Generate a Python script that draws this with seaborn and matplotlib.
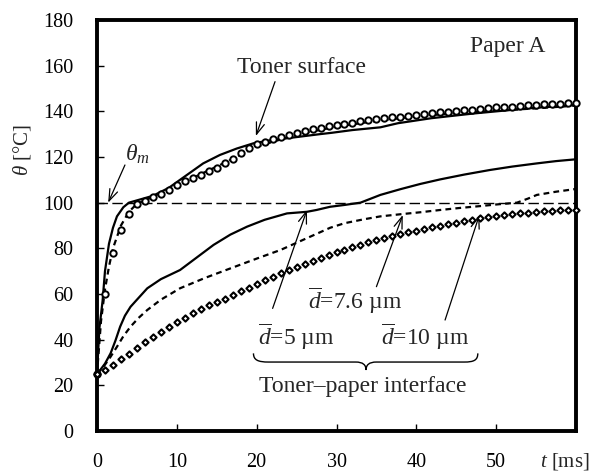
import numpy as np
import pandas as pd
import matplotlib
matplotlib.use('Agg')
import matplotlib.pyplot as plt
import seaborn as sns
from matplotlib.path import Path
from matplotlib.patches import PathPatch

# ---------------- data ----------------
# Toner surface, simulation (solid)
surf_solid_t = [0, 0.3, 0.7, 1.0, 1.5, 2.0, 2.5, 3.3, 4, 5, 7, 9, 10.4, 13.3, 15.4, 17.5,
                19.6, 21.7, 23.8, 27.9, 29.4, 32, 35.5, 37.7, 41.9, 47.3, 54, 60]
surf_solid_v = [25, 45, 57, 70, 82, 89, 94, 98, 100, 101, 103, 106.5, 110, 117.2, 120.9, 123.7,
                126, 127.3, 128.2, 130, 130.6, 131.8, 133, 134.8, 137, 139.1, 141.3, 142.8]
# Toner surface, simulation (dashed)
surf_dash_t = [0, 0.5, 1, 1.5, 2, 3, 4, 5, 7, 10, 13, 16, 20, 25, 30, 35, 40, 45, 50, 55, 60]
surf_dash_v = [25, 48, 62, 72, 80, 90, 96, 99.5, 102.5, 107.5, 112.5, 117.5, 124.5, 129.8,
               133.3, 135.8, 137.8, 139.2, 140.3, 141.3, 142.5]
# Toner surface, measured (circles), every 1 ms
exp_t = list(range(0, 61))
surf_exp_v = [25, 60, 78, 88, 95, 99.5, 100.6, 102.3, 104, 105.5, 107.8, 109.6, 110.8, 112.2,
              113.7, 115.2, 117.2, 119.2, 121.9, 124, 125.6, 126.7, 127.7, 128.8, 129.8, 130.6,
              131.4, 132.1, 132.8, 133.5, 134.1, 134.6, 135.1, 135.6, 136.1, 136.5, 136.9,
              137.3, 137.7, 138.1, 138.5, 138.8, 139.2, 139.5, 139.9, 140.2, 140.5, 140.8,
              141.1, 141.4, 141.7, 141.9, 142.1, 142.4, 142.6, 142.8, 143.0, 143.2, 143.3,
              143.5, 143.6]
# Toner-paper interface, d = 5 um (solid)
d5_t = [0, 0.4, 1.0, 1.7, 2.3, 2.9, 3.5, 4.2, 5, 6.3, 8, 10.4, 12.5, 14.6, 16.7, 18.8, 21,
        23.8, 26.3, 27.5, 29.2, 31, 33, 35.5, 38, 40.5, 43, 46, 49.2, 52, 55.1, 57.5, 60]
d5_v = [25, 26.7, 29.5, 34, 39.5, 45.7, 50.5, 54.4, 57.5, 62.5, 66.5, 70.5, 76, 81.5, 86,
        89.5, 92.5, 95.3, 96, 96.8, 98.2, 99, 100, 103.4, 105.9, 108.2, 110.2, 112.3, 114.3,
        115.8, 117.2, 118.2, 119]
# Toner-paper interface, d = 7.6 um (dashed)
d76_t = [0, 0.83, 1.7, 2.5, 3.3, 4.2, 5.2, 6.3, 8, 10.4, 13.5, 16.7, 20, 23, 26, 29.2, 31,
         33.4, 35.5, 38.2, 40.5, 43, 45.5, 48, 50, 52.6, 54, 55.1, 57.5, 60]
d76_v = [25, 28.2, 32.5, 36.9, 41.5, 45.7, 49.5, 53, 57.5, 62.5, 67, 71.2, 75.5, 79.3, 84,
         89, 91, 92.7, 94, 95, 95.8, 96.8, 97.7, 98.5, 99.2, 100, 101.8, 103.4, 104.8, 106]
# Toner-paper interface, d = 10 um (diamonds), every 1 ms
d10_v = [25, 26.5, 29, 31.5, 33.8, 36.3, 38.8, 41, 43.3, 45.5, 47.6, 49.6, 51.6, 53.3, 55,
         56.5, 58, 59.5, 61.2, 62.8, 64.5, 66, 67.6, 69, 70.5, 71.9, 73.2, 74.5, 75.8, 77.2,
         78.3, 79.4, 80.6, 81.6, 82.6, 83.5, 84.4, 85.3, 86.2, 87, 87.8, 88.6, 89.3, 90,
         90.7, 91.3, 91.9, 92.5, 93.1, 93.6, 94.1, 94.5, 94.9, 95.3, 95.6, 95.9, 96.2, 96.4,
         96.6, 96.8, 97]
theta_m = 100
x_ticks = [0, 10, 20, 30, 40, 50]
y_ticks = [0, 20, 40, 60, 80, 100, 120, 140, 160, 180]

# ---------------- style ----------------
sns.set_theme(style='white')
plt.rcParams['font.family'] = ['Liberation Serif', 'DejaVu Serif']
plt.rcParams['mathtext.fontset'] = 'custom'
plt.rcParams['mathtext.rm'] = 'Liberation Serif'
plt.rcParams['mathtext.it'] = 'Liberation Serif:italic'
plt.rcParams['mathtext.bf'] = 'Liberation Serif:bold'

fig = plt.figure(figsize=(5.92, 4.74), dpi=100)
ax = fig.add_axes([97/592, 1-431/474, (576-97)/592, (431-20)/474])

K = 'black'
LW = 1.6
short_dash = (0, (2.6, 1.9))

sns.lineplot(x=surf_solid_t, y=surf_solid_v, ax=ax, color=K, lw=LW, estimator=None, sort=False)
sns.lineplot(x=surf_dash_t, y=surf_dash_v, ax=ax, color=K, lw=LW, ls=short_dash,
             estimator=None, sort=False)
sns.lineplot(x=d5_t, y=d5_v, ax=ax, color=K, lw=LW, estimator=None, sort=False)
sns.lineplot(x=d76_t, y=d76_v, ax=ax, color=K, lw=LW, ls=short_dash, estimator=None, sort=False)

sns.scatterplot(x=exp_t, y=surf_exp_v, ax=ax, marker='o', s=21, facecolor='white',
                edgecolor=K, linewidth=1.4, zorder=4, clip_on=False)
sns.scatterplot(x=exp_t, y=d10_v, ax=ax, marker='D', s=10, facecolor='white',
                edgecolor=K, linewidth=1.5, zorder=4, clip_on=False)

ax.axhline(theta_m, color=K, lw=1.0, ls=(0, (7.5, 3.2)), zorder=2)

ax.set_xlim(0, 60)
ax.set_ylim(0, 180)
ax.set_xticks(x_ticks)
ax.set_yticks(y_ticks)
ax.set_xticklabels([str(v) for v in x_ticks])
ax.set_yticklabels([str(v) for v in y_ticks])
ax.tick_params(axis='both', direction='in', length=5, width=1, colors=K, labelsize=14.5)
ax.tick_params(axis='y', pad=17, left=True, right=False)
ax.tick_params(axis='x', pad=16, bottom=True, top=False)
for s in ax.spines.values():
    s.set_visible(True)
    s.set_color(K)
    s.set_linewidth(2.8)
ax.set_xlabel('')
ax.set_ylabel('')

FS = 17
ax.text(51.5, 168.6, 'Paper A', fontsize=FS, ha='center', va='center')
ax.text(25.6, 159.4, 'Toner surface', fontsize=FS, ha='center', va='center')
ax.text(5.0, 121, r'$\theta_m$', fontsize=FS, ha='center', va='center')
ax.text(25.0, 41.5, r'$\overline{d}$=5 µm', fontsize=FS, ha='center', va='center')
ax.text(32.3, 57.0, r'$\overline{d}$=7.6 µm', fontsize=FS, ha='center', va='center')
ax.text(41.1, 41.5, r'$\overline{d}$=10 µm', fontsize=FS, ha='center', va='center')
ax.text(33.3, 19.7, 'Toner–paper interface', fontsize=FS, ha='center', va='center')

arrow = dict(arrowstyle='->,head_length=0.7,head_width=0.25', lw=0.9, color=K,
             shrinkA=0, shrinkB=0)
ax.annotate('', xy=(19.9, 129.2), xytext=(22.3, 153), arrowprops=arrow)
ax.annotate('', xy=(1.4, 100), xytext=(3.5, 116.5), arrowprops=arrow)
ax.annotate('', xy=(26.3, 96.8), xytext=(22.0, 53.7), arrowprops=arrow)
ax.annotate('', xy=(38.3, 94.6), xytext=(35.0, 63.2), arrowprops=arrow)
ax.annotate('', xy=(47.9, 94.6), xytext=(43.6, 48.6), arrowprops=arrow)

# curly brace under the interface labels
verts = [(19.6, 34), (19.6, 31), (20.2, 30.2), (21.5, 30.2),
         (32.4, 30.2),
         (33.3, 30.2), (33.7, 29.0), (33.7, 26.7),
         (33.7, 29.0), (34.1, 30.2), (35.0, 30.2),
         (46.0, 30.2),
         (47.2, 30.2), (47.7, 31.0), (47.7, 34)]
codes = [Path.MOVETO, Path.CURVE4, Path.CURVE4, Path.CURVE4,
         Path.LINETO,
         Path.CURVE4, Path.CURVE4, Path.CURVE4,
         Path.CURVE4, Path.CURVE4, Path.CURVE4,
         Path.LINETO,
         Path.CURVE4, Path.CURVE4, Path.CURVE4]
ax.add_patch(PathPatch(Path(verts, codes), fill=False, lw=1.0, color=K))

fig.text(22/592, 1-150/474, r'$\theta$ [°C]', fontsize=15, rotation=90, ha='center', va='center')
fig.text(565/592, 1-461/474, r'$t$ [ms]', fontsize=15, ha='center', va='center')

fig.savefig('out.png', dpi=100, facecolor='white')
